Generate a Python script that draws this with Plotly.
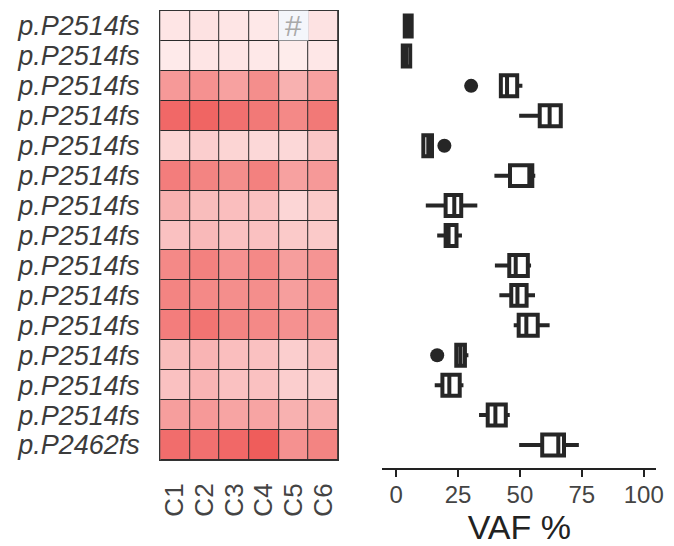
import plotly.graph_objects as go

# ---------------- data ----------------
row_labels = ["p.P2514fs"] * 14 + ["p.P2462fs"]
sample_labels = ["C1", "C2", "C3", "C4", "C5", "C6"]

# heatmap intensity (VAF-like, 0-100); None = missing ("#")
heat_values = [
    [8, 10, 8, 6, None, 10],
    [5, 8, 8, 6, 4, 7],
    [55, 60, 50, 62, 40, 50],
    [85, 87, 80, 75, 65, 75],
    [18, 22, 18, 16, 16, 27],
    [72, 68, 62, 70, 50, 55],
    [40, 33, 32, 30, 17, 25],
    [30, 35, 30, 30, 25, 25],
    [65, 70, 60, 65, 52, 58],
    [68, 65, 62, 62, 52, 58],
    [72, 78, 68, 65, 60, 58],
    [33, 38, 32, 30, 22, 30],
    [30, 38, 30, 30, 22, 22],
    [52, 55, 48, 48, 40, 42],
    [82, 80, 85, 92, 60, 68],
]
missing_mark = "#"

# box plot statistics (VAF %)
box_q1 = [3.5, 2.7, 42.3, 58.0, 11.0, 46.0, 20.0, 20.0, 45.7, 46.5, 49.5, 24.3, 18.7, 37.0, 59.0]
box_median = [5.0, 4.0, 44.8, 62.0, 13.0, 53.8, 23.5, 21.2, 48.3, 49.0, 52.6, 26.0, 21.5, 40.1, 65.5]
box_q3 = [6.3, 5.7, 48.9, 66.5, 14.5, 55.0, 26.3, 24.4, 53.2, 52.7, 57.2, 27.8, 25.7, 44.3, 67.8]
box_low = [3.5, 2.7, 42.3, 49.7, 11.0, 39.7, 12.0, 16.6, 39.9, 41.7, 47.5, 24.3, 15.6, 33.5, 49.7]
box_high = [6.3, 5.7, 51.0, 67.3, 14.5, 56.2, 32.8, 26.6, 54.5, 56.1, 62.0, 29.2, 27.2, 45.9, 73.8]
outlier_row = [2, 4, 11]
outlier_vaf = [30.3, 19.5, 16.6]

vaf_ticks = [0, 25, 50, 75, 100]

# ---------------- figure ----------------
rows = list(range(len(row_labels)))
cols = list(range(len(sample_labels)))

OFF = 8  # default page body margin
W, H = 674 - OFF, 546 - OFF
def fx(px):
    return (px - OFF + 2) / W
def fy(py):
    return (H - (py - OFF + 1)) / H

fig = go.Figure()

fig.add_trace(go.Heatmap(
    z=heat_values, x=cols, y=rows,
    zmin=0, zmax=100,
    colorscale=[[0, "rgb(255,242,242)"], [1, "rgb(238,80,78)"]],
    showscale=False, xgap=1, ygap=1, hoverongaps=False,
    xaxis="x", yaxis="y",
))

fig.add_trace(go.Box(
    y=rows, q1=box_q1, median=box_median, q3=box_q3,
    lowerfence=box_low, upperfence=box_high,
    orientation="h", boxpoints=False,
    fillcolor="white", line=dict(color="#262626", width=4),
    whiskerwidth=0, width=0.7,
    xaxis="x2", yaxis="y2", showlegend=False,
))

fig.add_trace(go.Scatter(
    x=outlier_vaf, y=outlier_row, mode="markers",
    marker=dict(color="#262626", size=14),
    xaxis="x2", yaxis="y2", showlegend=False,
))

# missing cell marker
for r, row in enumerate(heat_values):
    for c, v in enumerate(row):
        if v is None:
            fig.add_annotation(
                x=c, y=r, xref="x", yref="y", text=missing_mark,
                showarrow=False, font=dict(size=30, color="#a9a9a9", family="Liberation Sans"),
                bgcolor="#F4F6FB", width=29, height=29, borderpad=0,
            )

px_per_row = (459 - 10) / len(rows)
box_bottom = len(rows) - 0.5 + (467 - 459) / px_per_row

fig.update_layout(
    width=W, height=H,
    margin=dict(l=0, r=0, t=0, b=0),
    paper_bgcolor="white", plot_bgcolor="white",
    showlegend=False,
    font=dict(family="Liberation Sans", color="#333333"),
    xaxis=dict(
        domain=[fx(159), fx(339)], range=[-0.5, 5.5],
        tickvals=cols, ticktext=sample_labels, tickangle=-90,
        tickfont=dict(size=26, color="#444444"),
        ticks="outside", ticklen=12, tickcolor="rgba(0,0,0,0)",
        showgrid=False, zeroline=False,
        showline=True, mirror=True, linecolor="#333333", linewidth=1,
        anchor="y",
    ),
    yaxis=dict(
        domain=[fy(459), fy(10)], range=[len(rows) - 0.5, -0.5],
        tickvals=rows, ticktext=row_labels,
        tickfont=dict(size=27, color="#3c3c3c", family="Liberation Sans", style="italic"),
        ticks="outside", ticklen=14, tickcolor="rgba(0,0,0,0)",
        showgrid=False, zeroline=False,
        showline=True, mirror=True, linecolor="#333333", linewidth=1,
        anchor="x",
    ),
    xaxis2=dict(
        domain=[fx(384), fx(661)], range=[-5.5, 105],
        tickvals=vaf_ticks,
        tickfont=dict(size=24, color="#444444"),
        ticks="outside", ticklen=7, tickwidth=2, tickcolor="#222222",
        ticklabelstandoff=-3,
        showgrid=False, zeroline=False,
        showline=True, linecolor="#222222", linewidth=2,
        title=dict(text="VAF %", font=dict(size=34, color="#222222"), standoff=8),
        anchor="y2",
    ),
    yaxis2=dict(
        domain=[fy(467), fy(10)], range=[box_bottom, -0.5],
        showticklabels=False, ticks="", showgrid=False, zeroline=False,
        showline=False, anchor="x2",
    ),
    shapes=[dict(type="rect", xref="x domain", yref="y domain",
                 x0=0, x1=1, y0=0, y1=1, fillcolor="#2b2b2b",
                 line=dict(width=0), layer="below")],
)

fig.write_html("out.html")
